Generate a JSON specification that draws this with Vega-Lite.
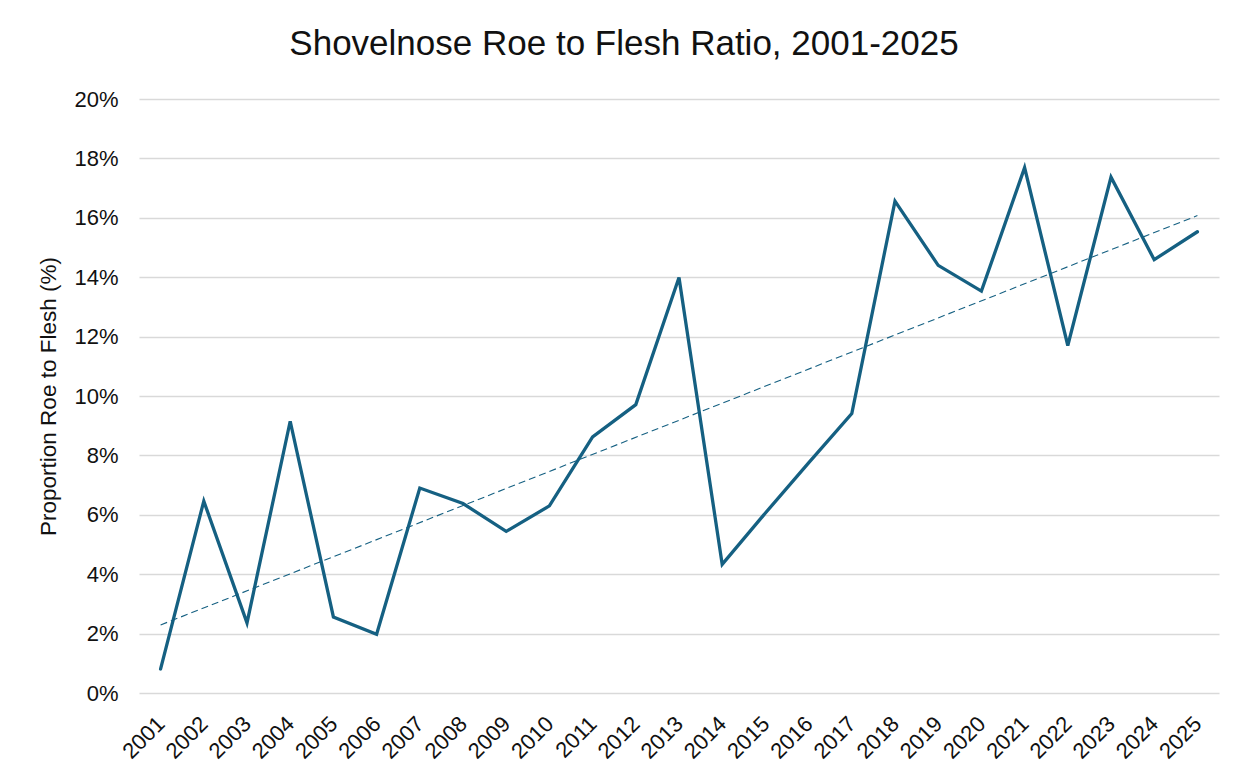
{
  "$schema": "https://vega.github.io/schema/vega-lite/v6.json",
  "width": 1080,
  "height": 594,
  "autosize": {"type": "none"},
  "padding": {"left": 139, "top": 99, "right": 28, "bottom": 89},
  "background": "#ffffff",
  "title": {
    "text": "Shovelnose Roe to Flesh Ratio, 2001-2025",
    "fontSize": 35,
    "fontWeight": "normal",
    "font": "Liberation Sans",
    "color": "#111111",
    "anchor": "middle",
    "dx": -55,
    "offset": 26
  },
  "data": {
    "values": [
      {"year": 2001, "ratio": 0.0081},
      {"year": 2002, "ratio": 0.0646},
      {"year": 2003, "ratio": 0.0236},
      {"year": 2004, "ratio": 0.0915},
      {"year": 2005, "ratio": 0.0256},
      {"year": 2006, "ratio": 0.0198},
      {"year": 2007, "ratio": 0.0690},
      {"year": 2008, "ratio": 0.0638},
      {"year": 2009, "ratio": 0.0544},
      {"year": 2010, "ratio": 0.0630},
      {"year": 2011, "ratio": 0.0862},
      {"year": 2012, "ratio": 0.0971},
      {"year": 2013, "ratio": 0.1399},
      {"year": 2014, "ratio": 0.0433},
      {"year": 2015, "ratio": 0.0606},
      {"year": 2016, "ratio": 0.0775},
      {"year": 2017, "ratio": 0.0941},
      {"year": 2018, "ratio": 0.1656},
      {"year": 2019, "ratio": 0.1440},
      {"year": 2020, "ratio": 0.1353},
      {"year": 2021, "ratio": 0.1769},
      {"year": 2022, "ratio": 0.1170},
      {"year": 2023, "ratio": 0.1737},
      {"year": 2024, "ratio": 0.1459},
      {"year": 2025, "ratio": 0.1553}
    ]
  },
  "encoding": {
    "x": {
      "field": "year",
      "type": "quantitative",
      "scale": {"domain": [2000.5, 2025.5], "nice": false, "zero": false},
      "axis": {
        "title": null,
        "values": [2001, 2002, 2003, 2004, 2005, 2006, 2007, 2008, 2009, 2010, 2011, 2012, 2013, 2014, 2015, 2016, 2017, 2018, 2019, 2020, 2021, 2022, 2023, 2024, 2025],
        "format": "d",
        "labelAngle": -45,
        "labelAlign": "right",
        "labelBaseline": "middle",
        "labelPadding": 27,
        "labelFontSize": 22,
        "labelFont": "Liberation Sans",
        "labelColor": "#111111",
        "labelOverlap": false,
        "labelFlush": false,
        "domain": false,
        "ticks": false,
        "grid": false
      }
    },
    "y": {
      "field": "ratio",
      "type": "quantitative",
      "scale": {"domain": [0, 0.2], "nice": false},
      "axis": {
        "title": "Proportion Roe to Flesh (%)",
        "titleFont": "Liberation Sans",
        "titleFontSize": 22.5,
        "titleFontWeight": "normal",
        "titleColor": "#111111",
        "titlePadding": 13,
        "values": [0, 0.02, 0.04, 0.06, 0.08, 0.1, 0.12, 0.14, 0.16, 0.18, 0.2],
        "format": ".0%",
        "labelFontSize": 22,
        "labelFont": "Liberation Sans",
        "labelColor": "#111111",
        "labelPadding": 21,
        "domain": false,
        "ticks": false,
        "grid": true,
        "gridColor": "#d9d9d9",
        "gridWidth": 1.3
      }
    }
  },
  "layer": [
    {
      "mark": {"type": "line", "color": "#156082", "strokeWidth": 3.3, "strokeJoin": "miter", "strokeCap": "round"}
    },
    {
      "transform": [
        {"regression": "ratio", "on": "year", "method": "linear"}
      ],
      "mark": {"type": "line", "color": "#156082", "strokeWidth": 1.1, "strokeDash": [7, 4]}
    }
  ],
  "config": {
    "view": {"stroke": null}
  }
}
